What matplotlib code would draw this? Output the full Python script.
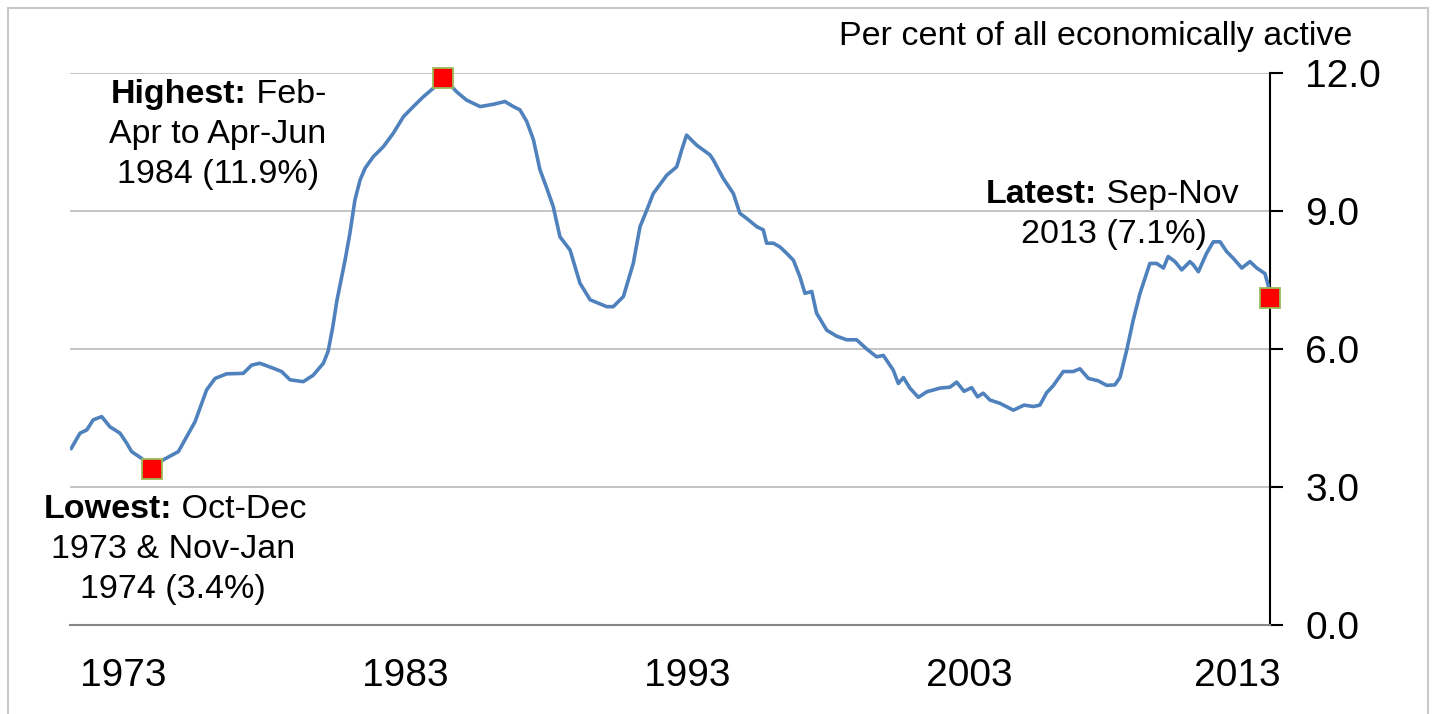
import matplotlib
matplotlib.use("Agg")
import matplotlib.pyplot as plt
from matplotlib.patches import Rectangle
from matplotlib.transforms import offset_copy, ScaledTranslation

plt.rcParams['font.family'] = ['Liberation Sans', 'DejaVu Sans']

# unemployment rate, rolling 3 month periods (x = mid month as decimal year)
years = [1971.29, 1971.60, 1971.84, 1972.07, 1972.37, 1972.66, 1973.02, 1973.26,
         1973.43, 1973.79, 1974.14, 1974.55, 1975.09, 1975.38, 1975.68, 1976.09,
         1976.39, 1976.80, 1977.39, 1977.69, 1977.98, 1978.46, 1978.75, 1979.05,
         1979.52, 1979.87, 1980.23, 1980.40, 1980.57, 1980.71, 1980.86, 1981.00,
         1981.17, 1981.35, 1981.53, 1981.71, 1982.00, 1982.36, 1982.71, 1983.07,
         1983.42, 1983.77, 1984.13, 1984.48, 1984.96, 1985.31, 1985.79, 1986.26,
         1986.67, 1986.97, 1987.20, 1987.44, 1987.68, 1987.91, 1988.15, 1988.38,
         1988.62, 1988.98, 1989.33, 1989.69, 1990.28, 1990.51, 1990.87, 1991.22,
         1991.46, 1991.70, 1991.93, 1992.41, 1992.76, 1992.94, 1993.11, 1993.47,
         1993.94, 1994.06, 1994.41, 1994.77, 1995.00, 1995.24, 1995.60, 1995.83,
         1995.95, 1996.19, 1996.42, 1996.66, 1996.90, 1997.13, 1997.31, 1997.55,
         1997.72, 1998.08, 1998.43, 1998.79, 1999.14, 1999.50, 1999.85, 2000.09,
         2000.44, 2000.62, 2000.80, 2001.03, 2001.33, 2001.63, 2002.10, 2002.45,
         2002.69, 2002.95, 2003.22, 2003.43, 2003.63, 2003.87, 2004.22, 2004.70,
         2005.08, 2005.41, 2005.64, 2005.88, 2006.11, 2006.47, 2006.82, 2007.06,
         2007.36, 2007.70, 2008.01, 2008.30, 2008.48, 2008.72, 2008.95, 2009.19,
         2009.54, 2009.78, 2010.02, 2010.19, 2010.43, 2010.67, 2010.96, 2011.08,
         2011.26, 2011.55, 2011.79, 2012.03, 2012.26, 2012.50, 2012.80, 2013.09,
         2013.33, 2013.62, 2013.73, 2013.80]
rate = [3.84, 4.17, 4.24, 4.46, 4.53, 4.31, 4.17, 3.95,
        3.77, 3.62, 3.40, 3.59, 3.77, 4.09, 4.42, 5.11,
        5.36, 5.46, 5.47, 5.65, 5.69, 5.58, 5.51, 5.33,
        5.29, 5.43, 5.69, 5.95, 6.50, 7.05, 7.50, 7.93,
        8.51, 9.24, 9.67, 9.93, 10.18, 10.40, 10.69, 11.05,
        11.27, 11.48, 11.67, 11.90, 11.59, 11.41, 11.27, 11.32,
        11.38, 11.27, 11.20, 10.95, 10.55, 9.90, 9.50, 9.10,
        8.44, 8.15, 7.43, 7.07, 6.92, 6.92, 7.14, 7.86,
        8.66, 9.02, 9.38, 9.78, 9.96, 10.33, 10.65, 10.43,
        10.22, 10.11, 9.71, 9.38, 8.95, 8.84, 8.66, 8.59,
        8.30, 8.30, 8.22, 8.08, 7.93, 7.57, 7.21, 7.25,
        6.78, 6.41, 6.28, 6.20, 6.20, 6.00, 5.83, 5.86,
        5.54, 5.25, 5.38, 5.15, 4.95, 5.07, 5.15, 5.17,
        5.28, 5.08, 5.16, 4.96, 5.04, 4.89, 4.82, 4.67,
        4.78, 4.75, 4.78, 5.05, 5.20, 5.51, 5.51, 5.57,
        5.36, 5.31, 5.21, 5.22, 5.38, 5.98, 6.63, 7.21,
        7.86, 7.86, 7.76, 8.01, 7.90, 7.72, 7.90, 7.83,
        7.68, 8.08, 8.33, 8.33, 8.12, 7.97, 7.76, 7.90,
        7.76, 7.64, 7.40, 7.10]

# lowest, highest, latest
mark_years = [1974.14, 1984.48, 2013.80]
mark_rate = [3.4, 11.9, 7.1]

tick_years = [1973, 1983, 1993, 2003, 2013]
y_ticks = [0, 3, 6, 9, 12]

fig = plt.figure(figsize=(14.33, 7.14), dpi=100)
ax = fig.add_axes([70/1433, 1-625/714, 1200/1433, 552/714])

ax.plot(years, rate, color='#4F81BD', lw=2.6, solid_joinstyle='round', zorder=3)
ax.plot(mark_years, mark_rate, ls='none', marker='s', ms=15, mfc='#FF0000',
        mec='#9BBB59', mew=1.3, zorder=4, clip_on=False)

ax.set_xlim(1971.246, 2013.80)
ax.set_ylim(0, 12)

# ticks sit at Jan-Mar of each labelled year
ax.set_xticks([y + 0.125 for y in tick_years])
ax.set_xticklabels([str(y) for y in tick_years])
ax.set_yticks(y_ticks)
ax.set_yticklabels(['%.1f' % v for v in y_ticks])
ax.yaxis.tick_right()
ax.tick_params(axis='y', direction='out', length=9.4, width=1.5, pad=16,
               labelsize=28, colors='black')
ax.tick_params(axis='x', length=0, pad=24, labelsize=28, colors='black')

# last year label is pulled in a little, as in the original
last = ax.get_xticklabels()[-1]
last.set_transform(last.get_transform() +
                   ScaledTranslation(-0.14, 0, fig.dpi_scale_trans))

ax.grid(axis='y', color='#BFBFBF', lw=1.3)
ax.set_axisbelow(True)
for s in ['left', 'top']:
    ax.spines[s].set_visible(False)
ax.spines['right'].set_color('black')
ax.spines['right'].set_linewidth(1.5)
ax.spines['bottom'].set_color('#868686')
ax.spines['bottom'].set_linewidth(1.5)


def note(split_x, center_x, y, bold, first, rest):
    ax.text(split_x, y, bold, ha='right', va='baseline', fontsize=24.5,
            fontweight='bold')
    ax.text(split_x, y, ' ' + first, ha='left', va='baseline', fontsize=24.5)
    for i, s in enumerate(rest):
        tr = offset_copy(ax.transData, fig=fig, y=-(i + 1) * 28.8, units='points')
        ax.text(center_x, y, s, transform=tr, ha='center', va='baseline',
                fontsize=24.5)


note(1977.52, 1976.49, 11.35, 'Highest:', 'Feb-', ['Apr to Apr-Jun', '1984 (11.9%)'])
note(1974.86, 1974.90, 2.33, 'Lowest:', 'Oct-Dec', ['1973 & Nov-Jan', '1974 (3.4%)'])
note(2007.66, 2008.27, 9.17, 'Latest:', 'Sep-Nov', ['2013 (7.1%)'])

fig.text(1352/1433, 1-45/714, 'Per cent of all economically active',
         ha='right', va='baseline', fontsize=24.5)

fig.patches.append(Rectangle((8/1433, -0.1), 1420/1433, 1.1 - 8/714,
                             transform=fig.transFigure, fill=False,
                             edgecolor='#C8C8C8', lw=1.5))

fig.savefig('out.png', dpi=100)
